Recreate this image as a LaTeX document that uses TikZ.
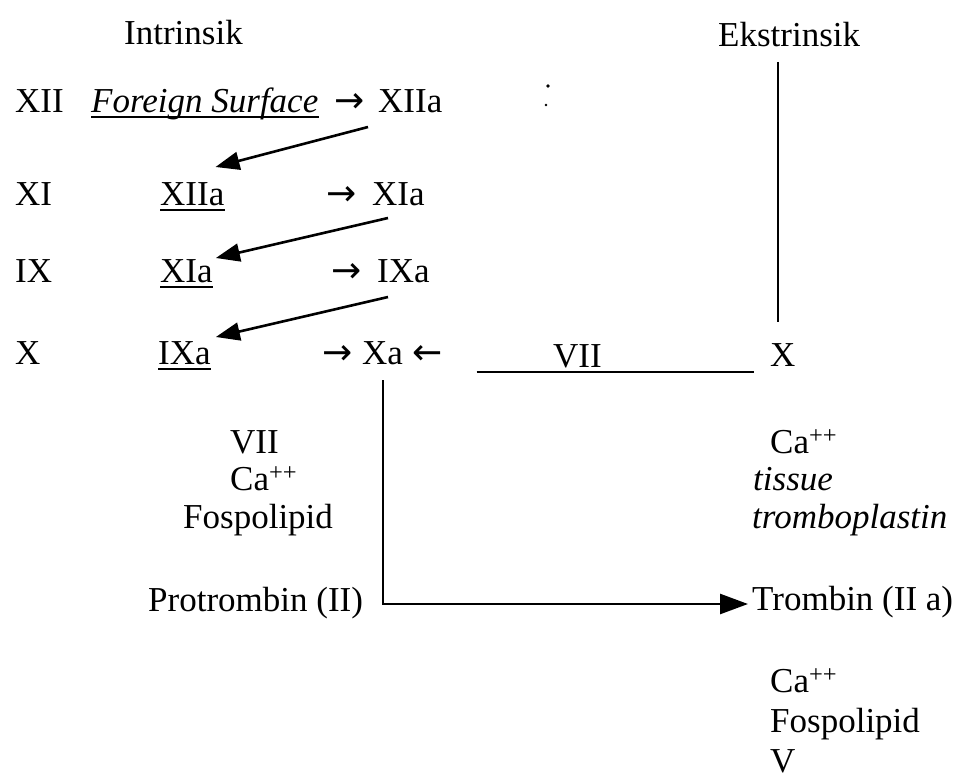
\documentclass[tikz,border=0pt]{standalone}
\usepackage{fontspec}
\setmainfont{Liberation Serif}
\newfontfamily\arrowfont{DejaVu Sans}
\usetikzlibrary{arrows.meta}
\begin{document}
\begin{tikzpicture}[x=1pt,y=-1pt,
  lbl/.style={inner sep=0pt, anchor=base west, font=\fontsize{35}{40}\selectfont},
  arr/.style={inner sep=0pt, anchor=base west, font=\fontsize{36}{40}\arrowfont},
  conn/.style={line width=2.6pt, -{Triangle[length=24pt,width=18pt]}},
  bigconn/.style={line width=2.6pt, -{Triangle[length=28pt,width=20pt]}},
  plainline/.style={line width=2.2pt},
  uline/.style={line width=1.6pt}]
\useasboundingbox (0,0) rectangle (969,784);
% headers
\node[lbl] (intr) at (124,45) {Intrinsik};
\node[lbl] (ekst) at (718,47) {Ekstrinsik};
% row 1
\node[lbl] (r1f) at (15,112) {XII};
\node[lbl] (r1s) at (91,112) {\textit{Foreign Surface}};
\node[arr] (r1a) at (334,112) {→};
\node[lbl] (r1p) at (378,112) {XIIa};
% row 2
\node[lbl] (r2f) at (15,205) {XI};
\node[lbl] (r2s) at (160,205) {XIIa};
\node[arr] (r2a) at (326,205) {→};
\node[lbl] (r2p) at (372,205) {XIa};
% row 3
\node[lbl] (r3f) at (15,282) {IX};
\node[lbl] (r3s) at (160,282) {XIa};
\node[arr] (r3a) at (331,282) {→};
\node[lbl] (r3p) at (377,282) {IXa};
% row 4
\node[lbl] (r4f) at (15,364) {X};
\node[lbl] (r4s) at (158,364) {IXa};
\node[arr] (r4a) at (322,364) {→};
\node[lbl] (r4p) at (362,364) {Xa};
\node[arr] (r4l) at (412,364) {←};
\node[lbl] (r4v) at (553,367) {VII};
\node[lbl] (r4x) at (770,366) {X};
% underlines
\foreach \n in {r1s,r2s,r3s,r4s}
  \draw[uline] ([shift={(0,5)}]\n.base west) -- ([shift={(0,5)}]\n.base east);
% stray marks
\fill (548,86) circle (1.8);
\fill (546,105) circle (1.4);
% cascade arrows
\draw[conn] ([shift={(-10,15)}]r1p.base west) -- ([shift={(-9,-38)}]r2s.base east);
\draw[conn] ([shift={(16,13)}]r2p.base west) -- ([shift={(3,-24)}]r3s.base east);
\draw[conn] ([shift={(11,15)}]r3p.base west) -- ([shift={(5,-27)}]r4s.base east);
% extrinsic pathway
\coordinate (ekstop) at (778,62);
\draw[line width=2.8pt] (ekstop) -- ([shift={(8,-44)}]r4x.base west);
\draw[plainline] ([shift={(34,8)}]r4l.base east) -- ([shift={(-16,6)}]r4x.base west);
% left cofactors
\node[lbl] (lc1) at (230,453) {VII};
\node[lbl] (lc2) at (230,490) {Ca\textsuperscript{++}};
\node[lbl] (lc3) at (183,528) {Fospolipid};
% right cofactors
\node[lbl] (rc1) at (770,453) {Ca\textsuperscript{++}};
\node[lbl] (rc2) at (753,490) {\textit{tissue}};
\node[lbl] (rc3) at (752,528) {\textit{tromboplastin}};
% prothrombin -> thrombin
\node[lbl] (prot) at (148,611) {Protrombin (II)};
\node[lbl] (trom) at (752,610) {Trombin (II a)};
\draw[bigconn] ([shift={(21,16)}]r4p.base west) |- ([shift={(-4,-6)}]trom.base west);
% bottom cofactors
\node[lbl] (bc1) at (770,692) {Ca\textsuperscript{++}};
\node[lbl] (bc2) at (770,732) {Fospolipid};
\node[lbl] (bc3) at (770,772) {V};
\end{tikzpicture}
\end{document}
